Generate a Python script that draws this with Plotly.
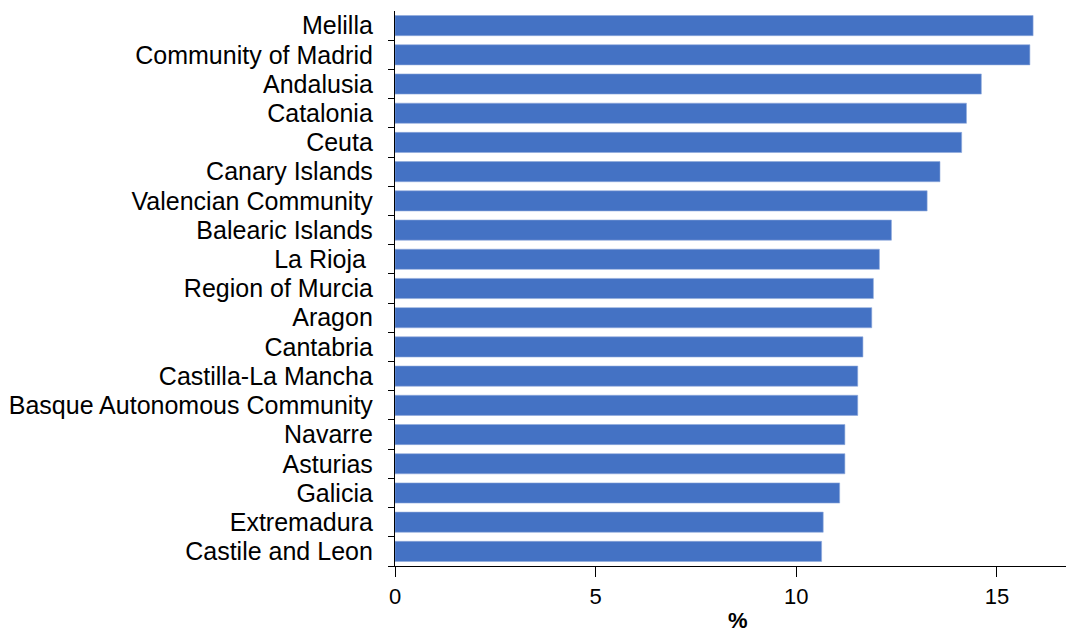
import plotly.graph_objects as go

# Regions, top to bottom as displayed
regions = [
    "Melilla", "Community of Madrid", "Andalusia", "Catalonia", "Ceuta",
    "Canary Islands", "Valencian Community", "Balearic Islands", "La Rioja\u00a0",
    "Region of Murcia", "Aragon", "Cantabria", "Castilla-La Mancha",
    "Basque Autonomous Community", "Navarre", "Asturias", "Galicia",
    "Extremadura", "Castile and Leon",
]
values = [
    15.9, 15.82, 14.61, 14.24, 14.12,
    13.58, 13.26, 12.37, 12.07,
    11.92, 11.88, 11.66, 11.53,
    11.53, 11.21, 11.21, 11.08,
    10.67, 10.63,
]
x_ticks = [0, 5, 10, 15]

fig = go.Figure(
    go.Bar(
        x=values,
        y=regions,
        orientation="h",
        marker=dict(color="#4472C4", line=dict(color="#8FAADC", width=0.6)),
        width=0.69,
    )
)

font_family = "Liberation Sans, Arial, sans-serif"

fig.update_layout(
    width=1067,
    height=634,
    margin=dict(l=395, r=1, t=11, b=68),
    plot_bgcolor="white",
    paper_bgcolor="white",
    showlegend=False,
    font=dict(family=font_family, size=22, color="black"),
    xaxis=dict(
        range=[0, 16.72],
        tickvals=x_ticks,
        ticktext=[str(v) for v in x_ticks],
        showgrid=False,
        zeroline=False,
        showline=True,
        linecolor="black",
        linewidth=1.3,
        ticks="outside",
        ticklen=10,
        tickwidth=1.3,
        tickcolor="black",
        tickfont=dict(size=22),
    ),
    yaxis=dict(
        categoryorder="array",
        categoryarray=regions[::-1],
        tickmode="array",
        tickvals=regions,
        ticktext=regions,
        autorange=False,
        range=[-0.5, len(regions) - 0.5],
        showgrid=False,
        zeroline=False,
        showline=True,
        linecolor="black",
        linewidth=1.3,
        ticks="outside",
        tickson="boundaries",
        ticklen=6,
        tickwidth=1.3,
        tickcolor="black",
        tickfont=dict(size=25),
        ticklabelstandoff=16,
    ),
    annotations=[
        dict(
            text="<b>%</b>",
            xref="paper",
            yref="paper",
            x=0.511,
            y=0,
            xanchor="center",
            yanchor="top",
            yshift=-40,
            showarrow=False,
            font=dict(size=22),
        )
    ],
)

fig.write_html("out.html")
